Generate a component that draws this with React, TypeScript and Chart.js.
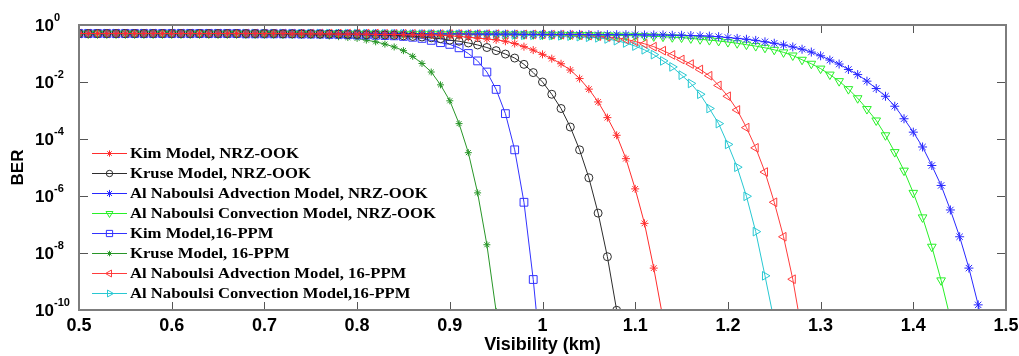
import React, { useEffect, useRef } from 'react';
import { Chart, registerables } from 'chart.js';
import { drawPoint } from 'chart.js/helpers';

Chart.register(...registerables);

// Visibility (km), every 0.01 km
const visibility = [
  0.50, 0.51, 0.52, 0.53, 0.54, 0.55, 0.56, 0.57, 0.58, 0.59,
  0.60, 0.61, 0.62, 0.63, 0.64, 0.65, 0.66, 0.67, 0.68, 0.69,
  0.70, 0.71, 0.72, 0.73, 0.74, 0.75, 0.76, 0.77, 0.78, 0.79,
  0.80, 0.81, 0.82, 0.83, 0.84, 0.85, 0.86, 0.87, 0.88, 0.89,
  0.90, 0.91, 0.92, 0.93, 0.94, 0.95, 0.96, 0.97, 0.98, 0.99,
  1.00, 1.01, 1.02, 1.03, 1.04, 1.05, 1.06, 1.07, 1.08, 1.09,
  1.10, 1.11, 1.12, 1.13, 1.14, 1.15, 1.16, 1.17, 1.18, 1.19,
  1.20, 1.21, 1.22, 1.23, 1.24, 1.25, 1.26, 1.27, 1.28, 1.29,
  1.30, 1.31, 1.32, 1.33, 1.34, 1.35, 1.36, 1.37, 1.38, 1.39,
  1.40, 1.41, 1.42, 1.43, 1.44, 1.45, 1.46, 1.47, 1.48,
];

// BER values as log10(BER), starting at 0.50 km
const kimNrzLog = [
  -0.30, -0.30, -0.30, -0.30, -0.30, -0.30, -0.30, -0.30, -0.30, -0.30,
  -0.30, -0.30, -0.30, -0.30, -0.30, -0.30, -0.30, -0.30, -0.30, -0.30,
  -0.30, -0.30, -0.30, -0.31, -0.31, -0.31, -0.31, -0.31, -0.32, -0.32,
  -0.32, -0.32, -0.33, -0.33, -0.33, -0.34, -0.34, -0.35, -0.35, -0.36,
  -0.38, -0.40, -0.43, -0.46, -0.49, -0.52, -0.57, -0.65, -0.76, -0.88,
  -1.03, -1.18, -1.36, -1.58, -1.88, -2.25, -2.70, -3.25, -3.87, -4.69,
  -5.75, -6.96, -8.53, -10.3,
];
const kruseNrzLog = [
  -0.30, -0.30, -0.30, -0.30, -0.30, -0.30, -0.30, -0.30, -0.30, -0.30,
  -0.30, -0.30, -0.30, -0.30, -0.30, -0.30, -0.30, -0.30, -0.30, -0.30,
  -0.30, -0.30, -0.31, -0.31, -0.31, -0.31, -0.32, -0.32, -0.32, -0.33,
  -0.33, -0.34, -0.34, -0.35, -0.36, -0.38, -0.40, -0.42, -0.45, -0.48,
  -0.53, -0.57, -0.63, -0.70, -0.79, -0.90, -1.02, -1.16, -1.38, -1.67,
  -2.00, -2.43, -2.93, -3.58, -4.38, -5.36, -6.60, -8.13, -10.01,
];
const advectionNrzLog = [
  -0.30, -0.30, -0.30, -0.30, -0.30, -0.30, -0.30, -0.30, -0.30, -0.30,
  -0.30, -0.30, -0.30, -0.30, -0.30, -0.30, -0.30, -0.30, -0.30, -0.30,
  -0.30, -0.30, -0.30, -0.30, -0.30, -0.30, -0.30, -0.30, -0.30, -0.30,
  -0.30, -0.30, -0.30, -0.30, -0.30, -0.30, -0.31, -0.31, -0.31, -0.31,
  -0.31, -0.31, -0.32, -0.32, -0.32, -0.32, -0.32, -0.32, -0.33, -0.33,
  -0.33, -0.33, -0.33, -0.33, -0.33, -0.34, -0.34, -0.34, -0.34, -0.34,
  -0.34, -0.35, -0.35, -0.35, -0.36, -0.36, -0.37, -0.38, -0.39, -0.41,
  -0.44, -0.47, -0.50, -0.54, -0.59, -0.64, -0.70, -0.77, -0.85, -0.95,
  -1.08, -1.23, -1.37, -1.56, -1.74, -1.97, -2.23, -2.50, -2.85, -3.29,
  -3.76, -4.28, -4.93, -5.63, -6.49, -7.43, -8.53, -9.82, -11.2,
];
const convectionNrzLog = [
  -0.30, -0.30, -0.30, -0.30, -0.30, -0.30, -0.30, -0.30, -0.30, -0.30,
  -0.30, -0.30, -0.30, -0.30, -0.30, -0.30, -0.30, -0.30, -0.30, -0.30,
  -0.30, -0.30, -0.30, -0.30, -0.30, -0.30, -0.30, -0.30, -0.30, -0.30,
  -0.30, -0.30, -0.30, -0.30, -0.30, -0.31, -0.31, -0.31, -0.31, -0.31,
  -0.32, -0.32, -0.32, -0.32, -0.32, -0.33, -0.33, -0.33, -0.33, -0.33,
  -0.34, -0.34, -0.34, -0.35, -0.35, -0.35, -0.36, -0.36, -0.37, -0.37,
  -0.38, -0.39, -0.40, -0.41, -0.43, -0.44, -0.47, -0.50, -0.53, -0.56,
  -0.60, -0.64, -0.69, -0.74, -0.80, -0.87, -0.96, -1.07, -1.22, -1.36,
  -1.53, -1.74, -1.97, -2.25, -2.57, -2.95, -3.35, -3.87, -4.46, -5.11,
  -5.89, -6.75, -7.78, -8.96, -10.3,
];
const kimPpmLog = [
  -0.30, -0.30, -0.30, -0.30, -0.30, -0.30, -0.30, -0.30, -0.30, -0.30,
  -0.30, -0.30, -0.30, -0.30, -0.30, -0.30, -0.30, -0.30, -0.31, -0.31,
  -0.31, -0.31, -0.31, -0.31, -0.32, -0.32, -0.32, -0.33, -0.33, -0.34,
  -0.35, -0.35, -0.36, -0.37, -0.38, -0.40, -0.43, -0.47, -0.54, -0.62,
  -0.68, -0.80, -1.00, -1.26, -1.65, -2.26, -3.11, -4.38, -6.22, -8.93,
  -12.3,
];
const krusePpmLog = [
  -0.30, -0.30, -0.30, -0.30, -0.30, -0.30, -0.30, -0.30, -0.30, -0.30,
  -0.30, -0.30, -0.30, -0.30, -0.30, -0.30, -0.30, -0.30, -0.31, -0.31,
  -0.31, -0.32, -0.32, -0.33, -0.34, -0.35, -0.37, -0.39, -0.41, -0.44,
  -0.47, -0.53, -0.59, -0.67, -0.77, -0.90, -1.10, -1.35, -1.65, -2.10,
  -2.66, -3.46, -4.48, -5.89, -7.71, -10.05,
];
const advectionPpmLog = [
  -0.30, -0.30, -0.30, -0.30, -0.30, -0.30, -0.30, -0.30, -0.30, -0.30,
  -0.30, -0.30, -0.30, -0.30, -0.30, -0.30, -0.30, -0.30, -0.30, -0.30,
  -0.30, -0.30, -0.30, -0.30, -0.30, -0.30, -0.30, -0.30, -0.30, -0.30,
  -0.30, -0.30, -0.30, -0.31, -0.31, -0.31, -0.31, -0.32, -0.32, -0.32,
  -0.32, -0.32, -0.32, -0.32, -0.32, -0.32, -0.33, -0.33, -0.33, -0.33,
  -0.33, -0.34, -0.34, -0.35, -0.36, -0.37, -0.39, -0.42, -0.45, -0.50,
  -0.58, -0.66, -0.76, -0.90, -1.05, -1.21, -1.37, -1.56, -1.78, -2.12,
  -2.50, -2.98, -3.60, -4.31, -5.16, -6.22, -7.43, -8.92, -10.8,
];
const convectionPpmLog = [
  -0.30, -0.30, -0.30, -0.30, -0.30, -0.30, -0.30, -0.30, -0.30, -0.30,
  -0.30, -0.30, -0.30, -0.30, -0.30, -0.30, -0.30, -0.30, -0.30, -0.30,
  -0.30, -0.30, -0.30, -0.30, -0.30, -0.30, -0.30, -0.30, -0.30, -0.30,
  -0.30, -0.30, -0.31, -0.31, -0.31, -0.31, -0.32, -0.32, -0.32, -0.33,
  -0.33, -0.33, -0.34, -0.34, -0.34, -0.35, -0.35, -0.35, -0.36, -0.36,
  -0.36, -0.37, -0.38, -0.39, -0.41, -0.43, -0.45, -0.49, -0.55, -0.63,
  -0.74, -0.87, -1.04, -1.26, -1.47, -1.76, -2.05, -2.43, -2.93, -3.46,
  -4.19, -4.99, -6.01, -7.25, -8.80, -10.4,
];

const seriesLabels = [
  'Kim Model, NRZ-OOK',
  'Kruse Model, NRZ-OOK',
  'Al Naboulsi Advection Model, NRZ-OOK',
  'Al Naboulsi Convection Model, NRZ-OOK',
  'Kim Model,16-PPM',
  'Kruse Model, 16-PPM',
  'Al Naboulsi Advection Model, 16-PPM',
  'Al Naboulsi Convection Model,16-PPM',
];
const seriesLogs = [
  kimNrzLog, kruseNrzLog, advectionNrzLog, convectionNrzLog,
  kimPpmLog, krusePpmLog, advectionPpmLog, convectionPpmLog,
];
const seriesColors = [
  'rgb(255,45,45)', 'rgb(45,45,45)', 'rgb(40,40,255)', 'rgb(40,240,40)',
  'rgb(50,50,255)', 'rgb(40,150,40)', 'rgb(255,60,60)', 'rgb(40,200,210)',
];
const seriesMarkers = ['star', 'circle', 'star', 'triangle', 'rect', 'star', 'triangle', 'triangle'];
const seriesRotations = [0, 0, 0, 180, 0, 0, 270, 90];
const seriesRadii = [4, 4, 4.5, 5, 5.5, 3.5, 5, 5];

const xTicks = [0.5, 0.6, 0.7, 0.8, 0.9, 1.0, 1.1, 1.2, 1.3, 1.4, 1.5];
const xTickLabels = ['0.5', '0.6', '0.7', '0.8', '0.9', '1', '1.1', '1.2', '1.3', '1.4', '1.5'];
const yTickExponents = [0, -2, -4, -6, -8, -10];

const decorPlugin = {
  id: 'decor',
  afterDatasetsDraw(chart: any) {
    const { ctx, chartArea } = chart;
    const { left, right, top, bottom } = chartArea;
    const xs = chart.scales.x;
    const ys = chart.scales.y;
    ctx.save();
    ctx.strokeStyle = '#555';
    ctx.lineWidth = 1;
    xTicks.forEach((v) => {
      const px = Math.round(xs.getPixelForValue(v)) + 0.5;
      ctx.beginPath();
      ctx.moveTo(px, bottom); ctx.lineTo(px, bottom - 8);
      ctx.moveTo(px, top); ctx.lineTo(px, top + 8);
      ctx.stroke();
    });
    yTickExponents.forEach((e) => {
      const py = Math.round(ys.getPixelForValue(Math.pow(10, e))) + 0.5;
      ctx.beginPath();
      ctx.moveTo(left, py); ctx.lineTo(left + 9, py);
      ctx.moveTo(right, py); ctx.lineTo(right - 9, py);
      ctx.stroke();
    });
    ctx.strokeStyle = '#7d7d7d';
    ctx.lineWidth = 2;
    ctx.strokeRect(left, top, right - left, bottom - top);

    // y tick labels 10^n
    ctx.fillStyle = '#000';
    ctx.textBaseline = 'middle';
    ctx.textAlign = 'left';
    yTickExponents.forEach((e) => {
      const py = ys.getPixelForValue(Math.pow(10, e));
      ctx.font = 'bold 17px "Liberation Sans", Arial, sans-serif';
      ctx.fillText('10', 35, py + 1);
      ctx.font = 'bold 11px "Liberation Sans", Arial, sans-serif';
      ctx.fillText(String(e), 54, py - 7);
    });

    // legend inside plot
    ctx.font = 'bold 15px "Liberation Serif", "Times New Roman", serif';
    const longest = Math.max(...seriesLabels.map((s) => ctx.measureText(s).width));
    const sx = 306 / longest;
    seriesLabels.forEach((label, i) => {
      const y = 153.5 + 20 * i;
      const color = seriesColors[i];
      ctx.strokeStyle = color;
      ctx.lineWidth = 1;
      ctx.beginPath();
      ctx.moveTo(92, y); ctx.lineTo(127, y);
      ctx.stroke();
      ctx.fillStyle = 'rgba(0,0,0,0)';
      drawPoint(ctx, {
        pointStyle: seriesMarkers[i] as any,
        rotation: seriesRotations[i],
        radius: seriesRadii[i] * 0.8,
        borderWidth: 1,
      } as any, 109.5, y);
      ctx.save();
      ctx.fillStyle = '#000';
      ctx.textBaseline = 'middle';
      ctx.translate(130, y + 1);
      ctx.scale(sx, 1);
      ctx.fillText(label, 0, 0);
      ctx.restore();
    });
    ctx.restore();
  },
};

export default function App() {
  const canvasRef = useRef<HTMLCanvasElement | null>(null);

  useEffect(() => {
    document.body.style.margin = '0';
    document.body.style.overflow = 'hidden';
    const canvas = canvasRef.current;
    if (!canvas) return;

    const datasets = seriesLabels.map((label, i) => ({
      label,
      data: seriesLogs[i].map((e, j) => ({ x: visibility[j], y: Math.pow(10, e) })),
      borderColor: seriesColors[i],
      backgroundColor: 'rgba(0,0,0,0)',
      borderWidth: 1,
      pointStyle: seriesMarkers[i],
      rotation: seriesRotations[i],
      pointRadius: seriesRadii[i],
      pointBorderWidth: 1,
      pointBorderColor: seriesColors[i],
      pointBackgroundColor: 'rgba(0,0,0,0)',
      tension: 0,
      fill: false,
    }));

    const chart = new Chart(canvas, {
      type: 'line',
      data: { datasets: datasets as any },
      options: {
        animation: false,
        responsive: true,
        maintainAspectRatio: false,
        layout: { padding: { top: 25, right: 13, left: 0, bottom: 0 } },
        plugins: {
          legend: { display: false },
          tooltip: { enabled: false },
        },
        scales: {
          x: {
            type: 'linear',
            min: 0.5,
            max: 1.5,
            grid: { display: false, drawTicks: false },
            border: { display: false },
            afterBuildTicks: (scale: any) => {
              scale.ticks = xTicks.map((v) => ({ value: v }));
            },
            afterFit: (scale: any) => {
              scale.height = 46;
              scale.paddingLeft = 0;
              scale.paddingRight = 0;
            },
            ticks: {
              autoSkip: false,
              maxRotation: 0,
              padding: 5,
              color: '#000',
              font: { family: '"Liberation Sans", Arial, sans-serif', weight: 'bold', size: 18 },
              callback: (_v: any, idx: number) => xTickLabels[idx],
            },
            title: {
              display: true,
              text: 'Visibility (km)',
              color: '#000',
              padding: { top: 0, bottom: 0 },
              font: { family: '"Liberation Sans", Arial, sans-serif', weight: 'bold', size: 18 },
            },
          },
          y: {
            type: 'logarithmic',
            min: 1e-10,
            max: 1,
            grid: { display: false },
            border: { display: false },
            ticks: { display: false },
            afterFit: (scale: any) => {
              scale.width = 79;
              scale.paddingTop = 0;
              scale.paddingBottom = 0;
            },
            title: {
              display: true,
              text: 'BER',
              color: '#000',
              padding: { top: 8, bottom: 0 },
              font: { family: '"Liberation Sans", Arial, sans-serif', weight: 'bold', size: 17 },
            },
          },
        },
      } as any,
      plugins: [decorPlugin],
    });

    return () => chart.destroy();
  }, []);

  return (
    <div style={{ position: 'relative', width: '1019px', height: '356px' }}>
      <canvas ref={canvasRef} />
    </div>
  );
}
